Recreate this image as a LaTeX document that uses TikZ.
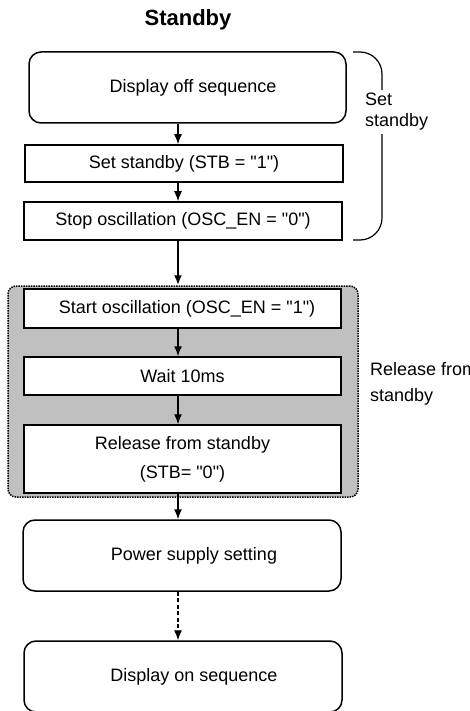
\documentclass[tikz,border=0pt]{standalone}
\usepackage{fontspec}
\setmainfont{Liberation Sans}
\usetikzlibrary{arrows.meta}
\definecolor{grisgrupo}{RGB}{192,192,192}

\begin{document}
\begin{tikzpicture}[x=1pt, y=-1pt, every node/.style={font=\fontsize{18}{21}\selectfont},
    caja/.style={draw, line width=1.5pt, fill=white, minimum width=317pt, inner sep=0pt},
    redonda/.style={caja, rounded corners=12pt, minimum height=71pt},
    corrido/.style={execute at begin node=\hspace*{#1}},
    flecha/.style={line width=1.3pt, -{Latex[length=10pt,width=8pt]}}]
  \useasboundingbox (0,0) rectangle (469,711);
  % Titulo
  \node[font=\fontsize{22}{26}\selectfont\bfseries] (titulo) at (188,20) {Standby};
  % Grupo gris (salida de standby)
  \node[draw, densely dotted, line width=1.5pt, rounded corners=8pt, fill=grisgrupo,
        minimum width=350pt, minimum height=211pt] (grupo) at (183,391.5) {};
  % Cajas
  \node[redonda, corrido=11pt] (c1) at (187.5,87.5) {Display off sequence};
  \node[caja, minimum width=318pt, minimum height=37pt] (c2) at (184,163.5)
        {Set standby (STB = \textquotedbl 1\textquotedbl)};
  \node[caja, minimum width=318pt, minimum height=38pt] (c3) at (183,221)
        {Stop oscillation (OSC\_EN = \textquotedbl 0\textquotedbl)};
  \node[caja, minimum height=39pt, corrido=9pt] (c4) at (182.5,308.5)
        {Start oscillation (OSC\_EN = \textquotedbl 1\textquotedbl)};
  \node[caja, minimum height=38pt] (c5) at (182.5,376) {Wait 10ms};
  \node[caja, minimum height=68pt, align=center, font=\fontsize{18}{29}\selectfont] (c6) at (182.5,459)
        {Release from standby\\(STB= \textquotedbl 0\textquotedbl)};
  \node[redonda, minimum width=318pt, corrido=24pt] (c7) at (182,555.5) {Power supply setting};
  \node[redonda, minimum width=318pt, corrido=22pt] (c8) at (183,676.5) {Display on sequence};
  % Flechas
  \coordinate (ax) at (178,0);
  \foreach \a/\b in {c1/c2, c2/c3, c4/c5, c5/c6, c6/c7} {
    \draw[flecha] (\a.south -| ax) -- (\b.north -| ax);
  }
  \draw[flecha, line width=2pt] (c3.south -| ax) -- (grupo.north -| ax);
  \draw[flecha, line width=1.1pt, dash pattern=on 4pt off 2.5pt] (c7.south -| ax) -- (c8.north -| ax);
  % Llave y etiquetas
  \draw[line width=1.2pt, rounded corners=22pt] (353,52) -- (382,52) -- (382,240) -- (353,240);
  \node[fill=white, align=left, anchor=west, inner sep=3pt] (lset) at (362,112) {Set\\standby};
  \node[align=left, anchor=west, inner sep=0pt, font=\fontsize{18}{26}\selectfont] (lrel) at (370,384)
        {Release from\\standby};
\end{tikzpicture}
\end{document}
